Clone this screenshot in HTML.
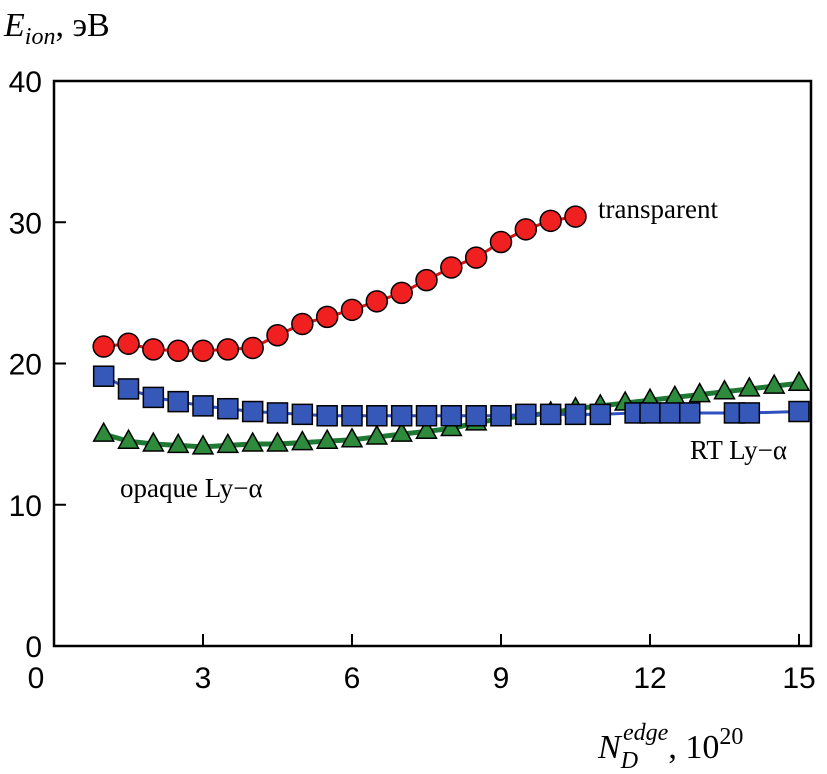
<!DOCTYPE html>
<html><head><meta charset="utf-8">
<style>
html,body{margin:0;padding:0;background:#fff;}
svg{display:block;}
</style></head>
<body>
<svg width="827" height="774" viewBox="0 0 827 774" xmlns="http://www.w3.org/2000/svg">
<g id="frame"></g>
<g id="series"></g>
<text x="4" y="36" font-family="Liberation Serif, serif" font-size="34"><tspan font-style="italic">E</tspan><tspan font-style="italic" font-size="24" dy="8">ion</tspan><tspan dy="-8">, эВ</tspan></text>
<text x="598" y="758" font-family="Liberation Serif, serif" font-size="34"><tspan font-style="italic">N</tspan><tspan font-style="italic" font-size="24" dy="10">D</tspan><tspan font-style="italic" font-size="24" dx="-15" dy="-28">edge</tspan><tspan dy="18">, 10</tspan><tspan font-size="24" dy="-14">20</tspan></text>
<text x="598" y="218" font-family="Liberation Serif, serif" font-size="27">transparent</text>
<text x="690" y="459" font-family="Liberation Serif, serif" font-size="27">RT Ly−α</text>
<text x="120" y="497" font-family="Liberation Serif, serif" font-size="27">opaque Ly−α</text>
</svg>
<script>
const xTicks=[0,3,6,9,12,15];
const yTicks=[0,10,20,30,40];
const redX=[1,1.5,2,2.5,3,3.5,4,4.5,5,5.5,6,6.5,7,7.5,8,8.5,9,9.5,10,10.5];
const redY=[21.2,21.4,21.0,20.9,20.9,21.0,21.1,22.0,22.8,23.3,23.8,24.4,25.0,25.9,26.8,27.5,28.6,29.5,30.1,30.4];
const blueX=[1,1.5,2,2.5,3,3.5,4,4.5,5,5.5,6,6.5,7,7.5,8,8.5,9,9.5,10,10.5,11,11.7,12,12.4,12.8,13.7,14,15];
const blueY=[19.1,18.2,17.6,17.3,17.0,16.8,16.6,16.5,16.4,16.3,16.3,16.3,16.3,16.3,16.3,16.3,16.3,16.4,16.4,16.4,16.4,16.5,16.5,16.5,16.5,16.5,16.5,16.6];
const greenX=[1,1.5,2,2.5,3,3.5,4,4.5,5,5.5,6,6.5,7,7.5,8,8.5,9,9.5,10,10.5,11,11.5,12,12.5,13,13.5,14,14.5,15];
const greenY=[15.0,14.5,14.3,14.2,14.1,14.2,14.3,14.3,14.4,14.5,14.6,14.8,15.0,15.2,15.4,15.8,16.1,16.3,16.5,16.8,17.0,17.2,17.4,17.6,17.8,18.0,18.2,18.4,18.6];

const NS='http://www.w3.org/2000/svg';
const sx=v=>54+v*(745/15);
const sy=v=>646-v*(565/40);
function mk(tag,attrs,parent){const e=document.createElementNS(NS,tag);for(const k in attrs)e.setAttribute(k,attrs[k]);parent.appendChild(e);return e;}
const frame=document.getElementById('frame');
const ser=document.getElementById('series');
let r=mk('rect',{x:54,y:81,width:757,height:565,fill:'none',stroke:'#000','stroke-width':2.5},frame);


xTicks.forEach(t=>{
  let l=mk('line',{x1:sx(t),x2:sx(t),y1:646,y2:634,stroke:'#000','stroke-width':2},frame);
  
  
  let tx=mk('text',{x:t===0?36:sx(t),y:688,'text-anchor':'middle','font-family':'Liberation Sans, sans-serif','font-size':30},frame);
  tx.textContent=t;
  
  
});
yTicks.forEach(t=>{
  let l=mk('line',{x1:54,x2:66,y1:sy(t),y2:sy(t),stroke:'#000','stroke-width':2},frame);
  
  
  let tx=mk('text',{x:42,y:t===0?657:sy(t)+11,'text-anchor':'end','font-family':'Liberation Sans, sans-serif','font-size':30},frame);
  tx.textContent=t;
  
  
});

function line(xs,ys,color,w,name){
  const p=mk('polyline',{points:xs.map((x,i)=>sx(x)+','+sy(ys[i])).join(' '),fill:'none',stroke:color,'stroke-width':w},ser);
  
  
}
line(greenX,greenY,'#1e7a32',5,'opaque-line');
line(blueX,blueY,'#2f50c0',3,'rt-line');
line(redX,redY,'#d11',3,'transparent-line');
greenX.forEach((x,i)=>{
  const cx=sx(x),cy=sy(greenY[i]);
  const t=mk('polygon',{points:`${cx},${cy-11} ${cx-10},${cy+7} ${cx+10},${cy+7}`,fill:'#2e8b3c',stroke:'#000','stroke-width':1.5},ser);
  
  
});
blueX.forEach((x,i)=>{
  const cx=sx(x),cy=sy(blueY[i]);
  const s=mk('rect',{x:cx-10,y:cy-10,width:20,height:20,fill:'#3658b8',stroke:'#000','stroke-width':1.5},ser);
  
  
});
redX.forEach((x,i)=>{
  const c=mk('circle',{cx:sx(x),cy:sy(redY[i]),r:10.5,fill:'#f02020',stroke:'#000','stroke-width':1.5},ser);
  
  
});
</script>
</body></html>
